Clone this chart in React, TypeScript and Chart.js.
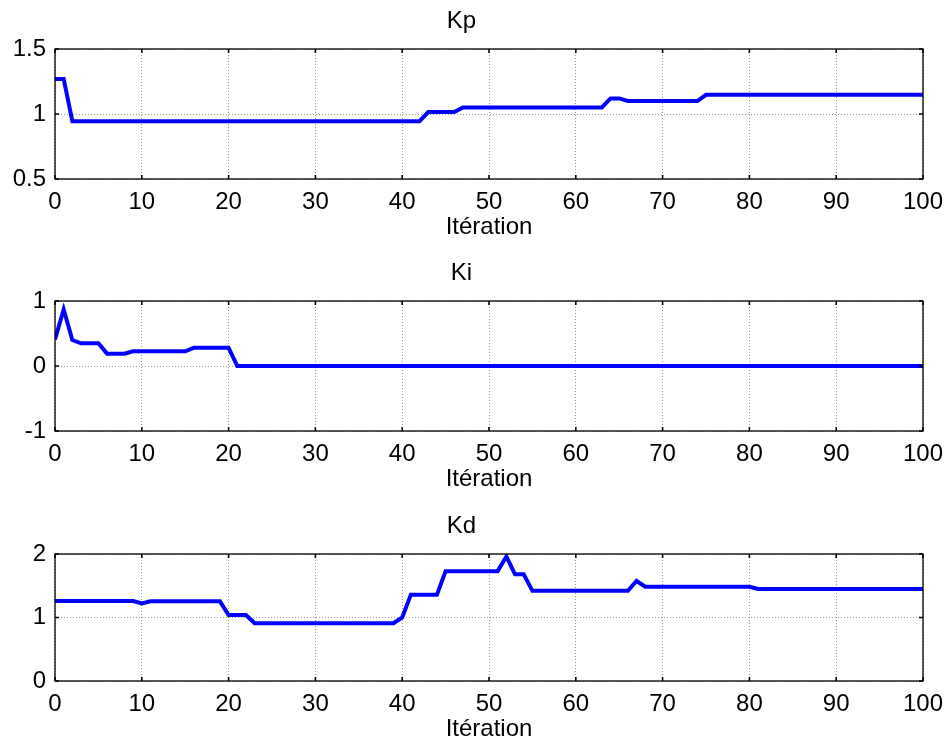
import React, { useEffect, useRef } from "react";
import { Chart, registerables } from "chart.js";

Chart.register(...registerables);

const FONT_FAMILY = "'Liberation Sans', Arial, Helvetica, sans-serif";
const FONT_SIZE = 24;

const xLabel = "Itération";
const panelTitles = ["Kp", "Ki", "Kd"];
const xTickValues = [0, 10, 20, 30, 40, 50, 60, 70, 80, 90, 100];
const kpTicks = [0.5, 1, 1.5];
const kiTicks = [-1, 0, 1];
const kdTicks = [0, 1, 2];

const kpValues = [
  1.27, 1.27, 0.945, 0.945, 0.945, 0.945, 0.945, 0.945, 0.945, 0.945,
  0.945, 0.945, 0.945, 0.945, 0.945, 0.945, 0.945, 0.945, 0.945, 0.945,
  0.945, 0.945, 0.945, 0.945, 0.945, 0.945, 0.945, 0.945, 0.945, 0.945,
  0.945, 0.945, 0.945, 0.945, 0.945, 0.945, 0.945, 0.945, 0.945, 0.945,
  0.945, 0.945, 0.945, 1.015, 1.015, 1.015, 1.015, 1.05, 1.05, 1.05,
  1.05, 1.05, 1.05, 1.05, 1.05, 1.05, 1.05, 1.05, 1.05, 1.05,
  1.05, 1.05, 1.05, 1.05, 1.12, 1.12, 1.1, 1.1, 1.1, 1.1,
  1.1, 1.1, 1.1, 1.1, 1.1, 1.148, 1.148, 1.148, 1.148, 1.148,
  1.148, 1.148, 1.148, 1.148, 1.148, 1.148, 1.148, 1.148, 1.148, 1.148,
  1.148, 1.148, 1.148, 1.148, 1.148, 1.148, 1.148, 1.148, 1.148, 1.148,
  1.148,
];

const kiValues = [
  0.41, 0.87, 0.4, 0.35, 0.35, 0.35, 0.19, 0.19, 0.19, 0.226,
  0.226, 0.226, 0.226, 0.226, 0.226, 0.226, 0.28, 0.28, 0.28, 0.28,
  0.28, 0, 0, 0, 0, 0, 0, 0, 0, 0,
  0, 0, 0, 0, 0, 0, 0, 0, 0, 0,
  0, 0, 0, 0, 0, 0, 0, 0, 0, 0,
  0, 0, 0, 0, 0, 0, 0, 0, 0, 0,
  0, 0, 0, 0, 0, 0, 0, 0, 0, 0,
  0, 0, 0, 0, 0, 0, 0, 0, 0, 0,
  0, 0, 0, 0, 0, 0, 0, 0, 0, 0,
  0, 0, 0, 0, 0, 0, 0, 0, 0, 0,
  0,
];

const kdValues = [
  1.26, 1.26, 1.26, 1.26, 1.26, 1.26, 1.26, 1.26, 1.26, 1.26,
  1.22, 1.255, 1.255, 1.255, 1.255, 1.255, 1.255, 1.255, 1.255, 1.255,
  1.04, 1.04, 1.04, 0.91, 0.91, 0.91, 0.91, 0.91, 0.91, 0.91,
  0.91, 0.91, 0.91, 0.91, 0.91, 0.91, 0.91, 0.91, 0.91, 0.91,
  1.0, 1.36, 1.36, 1.36, 1.36, 1.73, 1.73, 1.73, 1.73, 1.73,
  1.73, 1.73, 1.96, 1.68, 1.68, 1.42, 1.42, 1.42, 1.42, 1.42,
  1.42, 1.42, 1.42, 1.42, 1.42, 1.42, 1.42, 1.575, 1.485, 1.485,
  1.485, 1.485, 1.485, 1.485, 1.485, 1.485, 1.485, 1.485, 1.485, 1.485,
  1.485, 1.45, 1.45, 1.45, 1.45, 1.45, 1.45, 1.45, 1.45, 1.45,
  1.45, 1.45, 1.45, 1.45, 1.45, 1.45, 1.45, 1.45, 1.45, 1.45,
  1.45,
];

const iterations = kpValues.map((_, i) => i);

const boxPlugin = {
  id: "matlabBox",
  afterDraw(chart: any) {
    const { ctx, chartArea } = chart;
    const { left, right, top, bottom } = chartArea;
    const xs = chart.scales.x;
    const ys = chart.scales.y;
    const tl = 4;
    ctx.save();
    ctx.strokeStyle = "#000";
    ctx.lineWidth = 1.6;
    ctx.beginPath();
    xs.ticks.forEach((t: any) => {
      const px = xs.getPixelForValue(t.value);
      ctx.moveTo(px, top);
      ctx.lineTo(px, top + tl);
      ctx.moveTo(px, bottom);
      ctx.lineTo(px, bottom - tl);
    });
    ys.ticks.forEach((t: any) => {
      const py = ys.getPixelForValue(t.value);
      ctx.moveTo(left, py);
      ctx.lineTo(left + tl, py);
      ctx.moveTo(right, py);
      ctx.lineTo(right - tl, py);
    });
    ctx.stroke();
    ctx.lineWidth = 1.3;
    ctx.strokeRect(left, top, right - left, bottom - top);
    ctx.restore();
  },
};

type PanelProps = {
  top: number;
  height: number;
  plotTop: number;
  plotBottom: number;
  title: string;
  values: number[];
  yTicks: number[];
};

function Panel({ top, height, plotTop, plotBottom, title, values, yTicks }: PanelProps) {
  const ref = useRef<HTMLCanvasElement | null>(null);
  useEffect(() => {
    const font = { family: FONT_FAMILY, size: FONT_SIZE, weight: "normal" as const, lineHeight: 1.2 };
    const lh = FONT_SIZE * 1.2;
    const titleCenter = plotTop - 28;
    const tickCenter = plotBottom + 23;
    const xTitleCenter = plotBottom + 48;
    const gridColor = "#9a9a9a";
    const chart = new Chart(ref.current as HTMLCanvasElement, {
      type: "line",
      data: {
        datasets: [
          {
            data: values.map((v, i) => ({ x: iterations[i], y: v })),
            borderColor: "#0000ff",
            backgroundColor: "#0000ff",
            borderWidth: 4,
            pointRadius: 0,
            tension: 0,
            fill: false,
          },
        ],
      },
      options: {
        animation: false,
        responsive: false,
        maintainAspectRatio: false,
        layout: { padding: { left: 0, right: 25, top: 0, bottom: 0 } },
        plugins: {
          legend: { display: false },
          tooltip: { enabled: false },
          title: {
            display: true,
            text: title,
            color: "#000",
            font,
            padding: { top: titleCenter - lh / 2, bottom: plotTop - (titleCenter + lh / 2) },
          },
        },
        scales: {
          x: {
            type: "linear",
            min: xTickValues[0],
            max: xTickValues[xTickValues.length - 1],
            afterBuildTicks: (s: any) => {
              s.ticks = xTickValues.map((v) => ({ value: v }));
            },
            ticks: {
              color: "#000",
              font,
              padding: tickCenter - plotBottom - lh / 2,
              maxRotation: 0,
              autoSkip: false,
              callback: (v: any) => String(v),
            },
            grid: { color: gridColor, drawTicks: false, lineWidth: 1 },
            border: { display: false, dash: [1, 2] },
            title: {
              display: true,
              text: xLabel,
              color: "#000",
              font,
              padding: { top: 0, bottom: height - xTitleCenter - lh / 2 },
            },
            afterFit: (s: any) => {
              s.height = height - plotBottom;
              s.paddingLeft = 0;
              s.paddingRight = 0;
            },
          },
          y: {
            type: "linear",
            min: yTicks[0],
            max: yTicks[yTicks.length - 1],
            afterBuildTicks: (s: any) => {
              s.ticks = yTicks.map((v) => ({ value: v }));
            },
            ticks: { color: "#000", font, padding: 9, callback: (v: any) => String(v) },
            grid: { color: gridColor, drawTicks: false, lineWidth: 1 },
            border: { display: false, dash: [1, 2] },
            afterFit: (s: any) => {
              s.width = 55;
              s.paddingTop = 0;
              s.paddingBottom = 0;
            },
          },
        },
      } as any,
      plugins: [boxPlugin],
    });
    return () => chart.destroy();
  }, []);
  return (
    <canvas
      ref={ref}
      width={948}
      height={height}
      style={{ position: "absolute", left: 0, top, width: 948, height, display: "block" }}
    />
  );
}

export default function App() {
  return (
    <div style={{ position: "absolute", left: 0, top: 0, width: 948, height: 753, background: "#fff" }}>
      <Panel top={0} height={252} plotTop={49} plotBottom={179} title={panelTitles[0]} values={kpValues} yTicks={kpTicks} />
      <Panel top={252} height={253} plotTop={49} plotBottom={179} title={panelTitles[1]} values={kiValues} yTicks={kiTicks} />
      <Panel top={505} height={248} plotTop={49} plotBottom={176} title={panelTitles[2]} values={kdValues} yTicks={kdTicks} />
    </div>
  );
}
